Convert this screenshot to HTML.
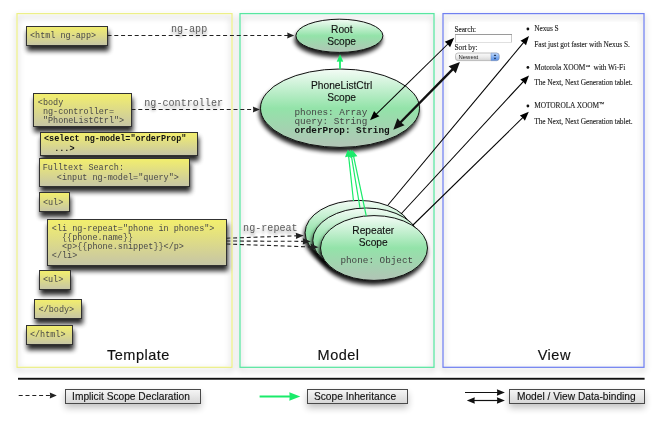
<!DOCTYPE html><html><head><meta charset="utf-8"><style>
html,body{margin:0;padding:0;background:#fff;width:661px;height:425px;overflow:hidden}svg{display:block;will-change:transform}
.m{font-family:"Liberation Mono",monospace}.s{font-family:"Liberation Sans",sans-serif}.r{font-family:"Liberation Serif",serif}
</style></head><body>
<svg width="661" height="425" viewBox="0 0 661 425">
<defs>
<linearGradient id="yg" x1="0" y1="0" x2="0" y2="1"><stop offset="0" stop-color="#f3ef6c"/><stop offset="1" stop-color="#c6c5a6"/></linearGradient>
<linearGradient id="gg" x1="0" y1="0" x2="0" y2="1"><stop offset="0" stop-color="#f4fcf6"/><stop offset="0.5" stop-color="#93e3a9"/><stop offset="1" stop-color="#b2c4b6"/></linearGradient>
<linearGradient id="lg" x1="0" y1="0" x2="0" y2="1"><stop offset="0" stop-color="#f6f6f6"/><stop offset="1" stop-color="#d6d6d6"/></linearGradient>
<filter id="bs" x="-20%" y="-40%" width="140%" height="200%"><feGaussianBlur in="SourceAlpha" stdDeviation="2.5"/><feOffset dx="1.2" dy="4.6"/><feComponentTransfer><feFuncA type="linear" slope="0.85"/></feComponentTransfer><feMerge><feMergeNode/><feMergeNode in="SourceGraphic"/></feMerge></filter>
<filter id="es" x="-20%" y="-30%" width="140%" height="180%"><feGaussianBlur in="SourceAlpha" stdDeviation="2.1"/><feOffset dx="-0.8" dy="3.8"/><feComponentTransfer><feFuncA type="linear" slope="0.9"/></feComponentTransfer><feMerge><feMergeNode/><feMergeNode in="SourceGraphic"/></feMerge></filter>
<filter id="ps" x="-10%" y="-10%" width="120%" height="120%"><feGaussianBlur in="SourceAlpha" stdDeviation="3"/><feOffset dx="0" dy="3"/><feComponentTransfer><feFuncA type="linear" slope="0.35"/></feComponentTransfer><feMerge><feMergeNode/><feMergeNode in="SourceGraphic"/></feMerge></filter>
<filter id="ls" x="-20%" y="-80%" width="140%" height="300%"><feGaussianBlur in="SourceAlpha" stdDeviation="3.5"/><feOffset dx="0" dy="4"/><feComponentTransfer><feFuncA type="linear" slope="0.24"/></feComponentTransfer><feMerge><feMergeNode/><feMergeNode in="SourceGraphic"/></feMerge></filter>
<filter id="ts" x="-10%" y="-50%" width="120%" height="250%"><feGaussianBlur in="SourceAlpha" stdDeviation="1.6"/><feOffset dx="0" dy="3"/><feComponentTransfer><feFuncA type="linear" slope="0.35"/></feComponentTransfer><feMerge><feMergeNode/><feMergeNode in="SourceGraphic"/></feMerge></filter>
</defs>
<g filter="url(#ps)" fill="none" stroke-width="1.25">
<rect x="17" y="13.6" width="215" height="353.7" stroke="#ecef88"/>
<rect x="240" y="13.6" width="194" height="353.7" stroke="#58e6a0"/>
<rect x="443" y="13.6" width="201" height="353.7" stroke="#7080f0"/>
</g>
<rect x="449" y="22" width="188" height="130" fill="#fff"/>
<rect x="18" y="377.8" width="626.6" height="1.9" fill="#111"/>
<g class="s" font-size="14.5" fill="#111" letter-spacing="0.5" stroke="#111" stroke-width="0.15">
<text x="107" y="359.5">Template</text><text x="317.6" y="359.7">Model</text><text x="537.7" y="359.7">View</text>
</g>
<rect x="26.5" y="26.5" width="81.0" height="19.0" fill="url(#yg)" stroke="#333" stroke-width="1" filter="url(#bs)"/>
<text class="m" x="30.0" y="38.1" font-size="8.47" fill="#484848" xml:space="preserve">&lt;html ng-app&gt;</text>
<rect x="33.5" y="93.5" width="98.0" height="33.0" fill="url(#yg)" stroke="#333" stroke-width="1" filter="url(#bs)"/>
<text class="m" x="37.8" y="104.9" font-size="8.47" fill="#484848" xml:space="preserve">&lt;body</text>
<text class="m" x="37.8" y="113.8" font-size="8.47" fill="#484848" xml:space="preserve"> ng-controller=</text>
<text class="m" x="37.8" y="123.1" font-size="8.47" fill="#484848" xml:space="preserve"> &quot;PhoneListCtrl&quot;&gt;</text>
<rect x="40.5" y="132.5" width="157.0" height="23.0" fill="url(#yg)" stroke="#333" stroke-width="1" filter="url(#bs)"/>
<text class="m" x="44.0" y="140.6" font-size="8.47" fill="#111" font-weight="bold" xml:space="preserve">&lt;select ng-model=&quot;orderProp&quot;</text>
<text class="m" x="44.0" y="150.7" font-size="8.47" fill="#111" font-weight="bold" xml:space="preserve">  ...&gt;</text>
<rect x="39.5" y="158.5" width="150.0" height="28.0" fill="url(#yg)" stroke="#333" stroke-width="1" filter="url(#bs)"/>
<text class="m" x="42.7" y="170.0" font-size="8.47" fill="#484848" xml:space="preserve">Fulltext Search:</text>
<text class="m" x="41.6" y="179.8" font-size="8.47" fill="#484848" xml:space="preserve">   &lt;input ng-model=&quot;query&quot;&gt;</text>
<rect x="39.5" y="192.5" width="30.0" height="19.0" fill="url(#yg)" stroke="#333" stroke-width="1" filter="url(#bs)"/>
<text class="m" x="42.9" y="204.5" font-size="8.47" fill="#484848" xml:space="preserve">&lt;ul&gt;</text>
<rect x="47.5" y="219.5" width="179.0" height="46.0" fill="url(#yg)" stroke="#333" stroke-width="1" filter="url(#bs)"/>
<text class="m" x="51.8" y="230.6" font-size="8.47" fill="#484848" xml:space="preserve">&lt;li ng-repeat=&quot;phone in phones&quot;&gt;</text>
<text class="m" x="51.8" y="239.9" font-size="8.47" fill="#484848" xml:space="preserve">  {{phone.name}}</text>
<text class="m" x="51.8" y="249.2" font-size="8.47" fill="#484848" xml:space="preserve">  &lt;p&gt;{{phone.snippet}}&lt;/p&gt;</text>
<text class="m" x="51.8" y="258.3" font-size="8.47" fill="#484848" xml:space="preserve">&lt;/li&gt;</text>
<rect x="39.5" y="270.5" width="31.0" height="19.0" fill="url(#yg)" stroke="#333" stroke-width="1" filter="url(#bs)"/>
<text class="m" x="42.9" y="281.5" font-size="8.47" fill="#484848" xml:space="preserve">&lt;ul&gt;</text>
<rect x="34.5" y="299.5" width="47.0" height="19.0" fill="url(#yg)" stroke="#333" stroke-width="1" filter="url(#bs)"/>
<text class="m" x="38.6" y="311.5" font-size="8.47" fill="#484848" xml:space="preserve">&lt;/body&gt;</text>
<rect x="26.5" y="325.5" width="46.0" height="19.0" fill="url(#yg)" stroke="#333" stroke-width="1" filter="url(#bs)"/>
<text class="m" x="29.9" y="337.3" font-size="8.47" fill="#484848" xml:space="preserve">&lt;/html&gt;</text>
<g class="m" font-size="10.1" fill="#5c5c5c" filter="url(#ts)">
<text x="170.9" y="31.8">ng-app</text><text x="144.3" y="105.8">ng-controller</text><text x="243.1" y="231">ng-repeat</text>
</g>
<ellipse cx="339.4" cy="35.8" rx="43.5" ry="16.6" fill="url(#gg)" stroke="#111" stroke-width="1" filter="url(#es)"/>
<ellipse cx="340.0" cy="108.2" rx="79.5" ry="39.2" fill="url(#gg)" stroke="#111" stroke-width="1" filter="url(#es)"/>
<ellipse cx="358.6" cy="232.8" rx="53.5" ry="32.4" fill="url(#gg)" stroke="#111" stroke-width="1" filter="url(#es)"/>
<ellipse cx="366.3" cy="240.4" rx="53.5" ry="32.4" fill="url(#gg)" stroke="#111" stroke-width="1" filter="url(#es)"/>
<ellipse cx="374.0" cy="248.0" rx="53.5" ry="32.4" fill="url(#gg)" stroke="#111" stroke-width="1" filter="url(#es)"/>
<g class="s" font-size="10.2" fill="#111" text-anchor="middle" stroke="#111" stroke-width="0.12">
<text x="341.8" y="33.2">Root</text><text x="341.6" y="44.8">Scope</text>
<text x="341.6" y="88.8">PhoneListCtrl</text><text x="341.6" y="101.2">Scope</text>
<text x="373.3" y="234.3">Repeater</text><text x="373.2" y="246">Scope</text>
</g>
<g class="m" font-size="9.33" fill="#444">
<text x="294.5" y="115.3">phones: Array</text><text x="294.5" y="123.5">query: String</text>
<text x="294.5" y="132.5" font-weight="bold" fill="#111">orderProp: String</text>
<text x="340.4" y="262.6">phone: Object</text>
</g>
<line x1="107.50" y1="35.50" x2="288.70" y2="35.50" stroke="#222" stroke-width="1.1" stroke-dasharray="4 2.8"/><polygon points="294.20,35.50 287.20,38.40 287.60,35.50 287.20,32.60" fill="#222"/>
<line x1="131.50" y1="109.50" x2="254.40" y2="109.50" stroke="#222" stroke-width="1.1" stroke-dasharray="4 2.8"/><polygon points="259.90,109.50 252.90,112.40 253.30,109.50 252.90,106.60" fill="#222"/>
<line x1="226.30" y1="238.20" x2="298.30" y2="235.78" stroke="#222" stroke-width="1.1" stroke-dasharray="4 2.8"/><polygon points="303.80,235.60 295.91,238.97 296.20,235.85 295.70,232.77" fill="#222"/>
<line x1="226.30" y1="241.00" x2="305.30" y2="241.37" stroke="#222" stroke-width="1.1" stroke-dasharray="4 2.8"/><polygon points="310.80,241.40 302.79,244.46 303.20,241.36 302.81,238.26" fill="#222"/>
<line x1="226.30" y1="244.00" x2="313.10" y2="247.01" stroke="#222" stroke-width="1.1" stroke-dasharray="4 2.8"/><polygon points="318.60,247.20 310.50,250.02 311.00,246.94 310.71,243.82" fill="#222"/>
<line x1="340.00" y1="69.00" x2="340.00" y2="60.20" stroke="#1aeb6a" stroke-width="1.8"/><polygon points="340.00,54.20 343.30,61.80 340.00,61.40 336.70,61.80" fill="#1aeb6a"/>
<line x1="353.50" y1="201.00" x2="348.44" y2="154.37" stroke="#1aeb6a" stroke-width="1.2"/><polygon points="347.90,149.40 352.39,156.46 348.67,156.46 345.03,157.26" fill="#1aeb6a"/>
<line x1="360.00" y1="208.00" x2="351.12" y2="154.33" stroke="#1aeb6a" stroke-width="1.2"/><polygon points="350.30,149.40 355.18,156.20 351.46,156.40 347.87,157.40" fill="#1aeb6a"/>
<line x1="366.30" y1="216.00" x2="353.24" y2="154.69" stroke="#1aeb6a" stroke-width="1.2"/><polygon points="352.20,149.80 357.38,156.36 353.68,156.74 350.14,157.91" fill="#1aeb6a"/>
<line x1="374.29" y1="116.10" x2="449.91" y2="42.00" stroke="#000" stroke-width="1.05"/><polygon points="454.20,37.80 450.07,47.16 447.70,44.17 444.75,41.73" fill="#000"/><polygon points="370.00,120.30 374.13,110.94 376.50,113.93 379.45,116.37" fill="#000"/>
<line x1="398.91" y1="124.00" x2="454.29" y2="67.70" stroke="#111" stroke-width="2.4"/><polygon points="459.90,62.00 455.75,73.35 452.47,69.56 448.62,66.34" fill="#111"/><polygon points="393.30,129.70 397.45,118.35 400.73,122.14 404.58,125.36" fill="#111"/>
<line x1="388.00" y1="205.00" x2="525.15" y2="40.71" stroke="#000" stroke-width="1.05"/><polygon points="529.00,36.10 526.00,45.32 523.49,42.70 520.47,40.70" fill="#000"/>
<line x1="401.00" y1="214.00" x2="524.93" y2="79.81" stroke="#000" stroke-width="1.05"/><polygon points="529.00,75.40 525.54,84.45 523.17,81.72 520.25,79.57" fill="#000"/>
<line x1="413.00" y1="225.00" x2="524.51" y2="115.99" stroke="#000" stroke-width="1.05"/><polygon points="528.80,111.80 524.88,120.67 522.65,117.81 519.85,115.52" fill="#000"/>
<g class="r" font-size="7.4" fill="#1a1a1a" letter-spacing="-0.07" stroke="#1a1a1a" stroke-width="0.1">
<text x="454.4" y="31.5">Search:</text><text x="454.5" y="50">Sort by:</text>
<text x="534.2" y="31.1">Nexus S</text><text x="534.2" y="46.5">Fast just got faster with Nexus S.</text>
<text x="534.2" y="69.6" style="white-space:pre">Motorola XOOM<tspan font-size="5" dy="-1.6">™</tspan><tspan dy="1.6">  with Wi-Fi</tspan></text><text x="534.2" y="85">The Next, Next Generation tablet.</text>
<text x="534.2" y="108">MOTOROLA XOOM<tspan font-size="5.6" dy="-1.6">™</tspan></text><text x="534.2" y="123.5">The Next, Next Generation tablet.</text>
</g>
<circle cx="527.9" cy="29" r="1.4" fill="#111"/><circle cx="527.9" cy="67.4" r="1.4" fill="#111"/><circle cx="527.9" cy="106" r="1.4" fill="#111"/>
<rect x="455" y="34" width="57" height="8.5" fill="#fff"/>
<path d="M455.5 42.5V34.5H511.5V42.5" fill="none" stroke="#c8c8c8" stroke-width="1"/>
<path d="M455 34.5H512" stroke="#9a9a9a" stroke-width="1"/>
<path d="M455 42.5H512" stroke="#e0e0e0" stroke-width="1"/>
<linearGradient id="sg" x1="0" y1="0" x2="0" y2="1"><stop offset="0" stop-color="#fbfbfb"/><stop offset="0.5" stop-color="#ececec"/><stop offset="1" stop-color="#d4d4d4"/></linearGradient>
<linearGradient id="bg2" x1="0" y1="0" x2="0" y2="1"><stop offset="0" stop-color="#c4dcfc"/><stop offset="0.5" stop-color="#86b2f2"/><stop offset="1" stop-color="#5a90e6"/></linearGradient>
<rect x="455.5" y="53" width="43.7" height="7.6" rx="2.5" fill="url(#sg)" stroke="#a8a8a8" stroke-width="0.7"/>
<path d="M491 53.2H496.5A2.5 2.5 0 0 1 499 55.7V58.1A2.5 2.5 0 0 1 496.5 60.6H491Z" fill="url(#bg2)" stroke="#6a8ccc" stroke-width="0.5"/>
<path d="M493.7 55.9l1.3-1.6 1.3 1.6zM493.7 57.8l1.3 1.6 1.3-1.6z" fill="#1a2a4a"/>
<text class="s" x="458.6" y="58.7" font-size="5.9" fill="#222">Newest</text>
<line x1="18.70" y1="395.50" x2="51.30" y2="395.50" stroke="#222" stroke-width="1.1" stroke-dasharray="4 2.8"/><polygon points="56.80,395.50 49.80,398.40 50.20,395.50 49.80,392.60" fill="#222"/>
<line x1="259.60" y1="396.50" x2="291.30" y2="396.50" stroke="#1aeb6a" stroke-width="2"/><polygon points="300.30,396.50 289.30,400.70 289.70,396.50 289.30,392.30" fill="#1aeb6a"/>
<line x1="465.00" y1="392.50" x2="499.90" y2="392.50" stroke="#111" stroke-width="1.2"/><polygon points="504.90,392.50 496.90,395.80 497.30,392.50 496.90,389.20" fill="#111"/>
<line x1="471.80" y1="400.50" x2="499.90" y2="400.50" stroke="#111" stroke-width="1.2"/><polygon points="504.90,400.50 496.90,403.80 497.30,400.50 496.90,397.20" fill="#111"/><polygon points="466.80,400.50 474.80,397.20 474.40,400.50 474.80,403.80" fill="#111"/>
<rect x="65.5" y="389.5" width="135.0" height="14.0" fill="url(#lg)" stroke="#4a4a4a" stroke-width="1" filter="url(#ls)"/>
<text class="s" x="131.0" y="400.1" font-size="10.2" fill="#111" text-anchor="middle" stroke="#111" stroke-width="0.12">Implicit Scope Declaration</text>
<rect x="307.5" y="389.5" width="100.0" height="14.0" fill="url(#lg)" stroke="#4a4a4a" stroke-width="1" filter="url(#ls)"/>
<text class="s" x="355.0" y="400.1" font-size="10.2" fill="#111" text-anchor="middle" stroke="#111" stroke-width="0.12">Scope Inheritance</text>
<rect x="509.5" y="389.5" width="135.0" height="14.0" fill="url(#lg)" stroke="#4a4a4a" stroke-width="1" filter="url(#ls)"/>
<text class="s" x="576.3" y="400.1" font-size="10.2" fill="#111" text-anchor="middle" stroke="#111" stroke-width="0.12">Model / View Data-binding</text>
</svg></body></html>
